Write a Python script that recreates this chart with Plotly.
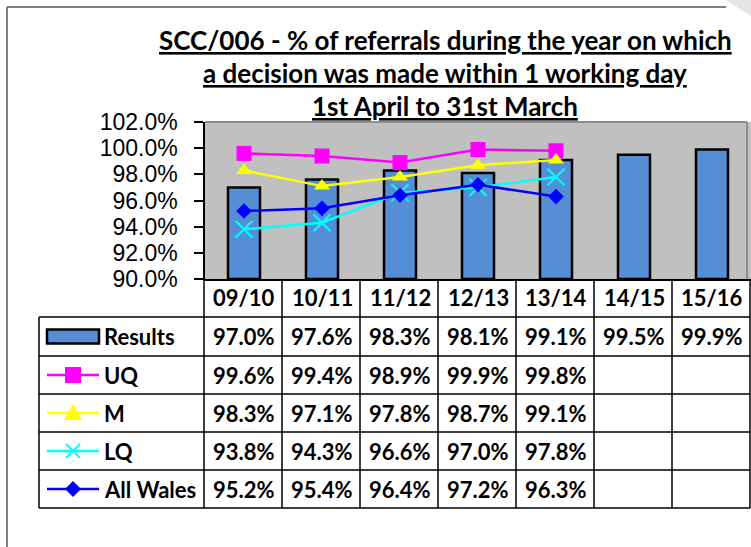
import plotly.graph_objects as go

# ---------------- data ----------------
categories = ["09/10", "10/11", "11/12", "12/13", "13/14", "14/15", "15/16"]
results = [97.0, 97.6, 98.3, 98.1, 99.1, 99.5, 99.9]
uq = [99.6, 99.4, 98.9, 99.9, 99.8]
median = [98.3, 97.1, 97.8, 98.7, 99.1]
lq = [93.8, 94.3, 96.6, 97.0, 97.8]
all_wales = [95.2, 95.4, 96.4, 97.2, 96.3]
series_names = ["Results", "UQ", "M", "LQ", "All Wales"]
title_lines = [
    "SCC/006 - % of referrals during the year on which",
    "a decision was made within 1 working day",
    "1st April to 31st March",
]

# ---------------- layout constants (pixels) ----------------
W, H = 751, 547
PLOT_L, PLOT_R, PLOT_T, PLOT_B = 205, 751, 122, 279
COL_W = (PLOT_R - PLOT_L) / len(categories)
ROW_Y = [279, 317, 356, 394, 432, 470, 508]  # header top .. table bottom
TABLE_L, TABLE_R = 39, 750

def px(x):
    return x / W

def py(y):
    return 1 - y / H

BAR_COLOR = "#558ED5"
TEXT_FONT = dict(family="Lato", size=22, color="black", weight="bold")
MAGENTA, YELLOW, CYAN, BLUE = "#FF00FF", "#FFFF00", "#00FFFF", "#0000FF"

fig = go.Figure()

# bars
fig.add_trace(go.Bar(
    x=categories, y=[v - 90 for v in results], base=90,
    marker=dict(color=BAR_COLOR, line=dict(color="black", width=2.5)),
    width=0.41, name="Results", showlegend=False,
))

line_specs = [
    (uq, "UQ", MAGENTA, dict(symbol="square", size=15, color=MAGENTA)),
    (median, "M", YELLOW, dict(symbol="triangle-up", size=14, color=YELLOW)),
    (lq, "LQ", CYAN, dict(symbol="x-thin-open", size=17, color=CYAN,
                          line=dict(color=CYAN, width=2))),
    (all_wales, "All Wales", BLUE, dict(symbol="diamond", size=12, color=BLUE)),
]
for vals, name, col, mk in line_specs:
    fig.add_trace(go.Scatter(
        x=categories[:len(vals)], y=vals, mode="lines+markers",
        line=dict(color=col, width=2.5), marker=mk, name=name, showlegend=False,
    ))

row_centers = [(ROW_Y[i] + ROW_Y[i + 1]) / 2 for i in range(1, 6)]
shapes = []

def pline(x0, y0, x1, y1, color, width):
    shapes.append(dict(type="line", xref="paper", yref="paper",
                       x0=px(x0), x1=px(x1), y0=py(y0), y1=py(y1),
                       line=dict(color=color, width=width)))

def ppath(pts, fill, line_color=None, width=0):
    d = "M " + " L ".join(f"{px(a)} {py(b)}" for a, b in pts) + " Z"
    shapes.append(dict(type="path", xref="paper", yref="paper", path=d,
                       fillcolor=fill, line=dict(color=line_color or fill, width=width)))

# legend keys inside the table
kx0, kx1, kxc = 47, 99, 73
shapes.append(dict(type="rect", xref="paper", yref="paper",
                   x0=px(kx0), x1=px(kx1), y0=py(row_centers[0] - 7), y1=py(row_centers[0] + 7),
                   fillcolor=BAR_COLOR, line=dict(color="black", width=2.5)))
for (_, _, col, _), yc in zip(line_specs, row_centers[1:]):
    pline(kx0, yc, kx1, yc, col, 2.5)
yc = row_centers[1]
ppath([(kxc - 8, yc - 8), (kxc + 8, yc - 8), (kxc + 8, yc + 8), (kxc - 8, yc + 8)], MAGENTA)
yc = row_centers[2]
ppath([(kxc, yc - 9), (kxc + 9, yc + 7), (kxc - 9, yc + 7)], YELLOW)
yc = row_centers[3]
pline(kxc - 7, yc - 7, kxc + 7, yc + 7, CYAN, 2)
pline(kxc - 7, yc + 7, kxc + 7, yc - 7, CYAN, 2)
yc = row_centers[4]
ppath([(kxc, yc - 8), (kxc + 8, yc), (kxc, yc + 8), (kxc - 8, yc)], BLUE)

# plot area grey border (top and right)
pline(PLOT_L, PLOT_T, 747, PLOT_T, "#8c8c8c", 2)
pline(747, PLOT_T, 747, PLOT_B, "#8c8c8c", 2)

# table grid
for y in ROW_Y[1:]:
    pline(TABLE_L, y, TABLE_R, y, "black", 1.5)
pline(TABLE_L, ROW_Y[1], TABLE_L, ROW_Y[-1], "black", 1.5)
for k in range(len(categories) + 1):
    x = PLOT_L - 1 + COL_W * k if k < len(categories) else TABLE_R
    pline(x, ROW_Y[0], x, ROW_Y[-1], "black", 1.5)

# outer frame
pline(7, 7, 7, 547, "#7f7f7f", 2)
pline(7, 7, 726, 7, "#7f7f7f", 2)
ppath([(726, 0), (751, 0), (751, 16)], "#e4e4e4")

annotations = []
# title
for i, t in enumerate(title_lines):
    annotations.append(dict(
        text=t, xref="paper", yref="paper", x=px(445), y=py(40 + 33 * i),
        xanchor="center", yanchor="middle", showarrow=False,
        font=dict(family="Lato", size=26, color="black", weight="bold", lineposition="under"),
    ))

# header row category labels
for c in categories:
    annotations.append(dict(
        text=c, xref="x", yref="paper", x=c, y=py((ROW_Y[0] + ROW_Y[1]) / 2),
        xanchor="center", yanchor="middle", showarrow=False, font=TEXT_FONT,
    ))

# series names
for name, yc in zip(series_names, row_centers):
    annotations.append(dict(
        text=name, xref="paper", yref="paper", x=px(102), y=py(yc),
        xanchor="left", yanchor="middle", showarrow=False, font=TEXT_FONT,
    ))

# table values
all_series = [results, uq, median, lq, all_wales]
for vals, yc in zip(all_series, row_centers):
    for c, v in zip(categories, vals):
        annotations.append(dict(
            text=f"{v:.1f}%", xref="x", yref="paper", x=c, y=py(yc),
            xanchor="center", yanchor="middle", showarrow=False, font=TEXT_FONT,
        ))

fig.update_layout(
    width=W, height=H, autosize=False,
    margin=dict(l=0, r=0, t=0, b=0, pad=0, autoexpand=False),
    paper_bgcolor="white", plot_bgcolor="#C0C0C0",
    xaxis=dict(
        domain=[px(PLOT_L), px(PLOT_R)], range=[-0.5, len(categories) - 0.5],
        type="category", categoryorder="array", categoryarray=categories,
        showticklabels=False, ticks="", showgrid=False, zeroline=False,
        showline=True, linecolor="black", linewidth=1.5, automargin=False,
    ),
    yaxis=dict(
        domain=[py(PLOT_B), py(PLOT_T)], range=[90, 102], dtick=2,
        tickformat=".1f", ticksuffix="%", ticks="outside", ticklen=9,
        tickcolor="black", tickwidth=1.5, showgrid=False, zeroline=False,
        showline=True, linecolor="black", linewidth=1.5, automargin=False,
        tickfont=dict(family="Liberation Sans", size=23, color="black"),
        ticklabelstandoff=12,
    ),
    shapes=shapes, annotations=annotations,
)

fig.write_html("out.html", include_plotlyjs=True, config={"displayModeBar": False},
               post_script="document.body.style.margin='0';")
